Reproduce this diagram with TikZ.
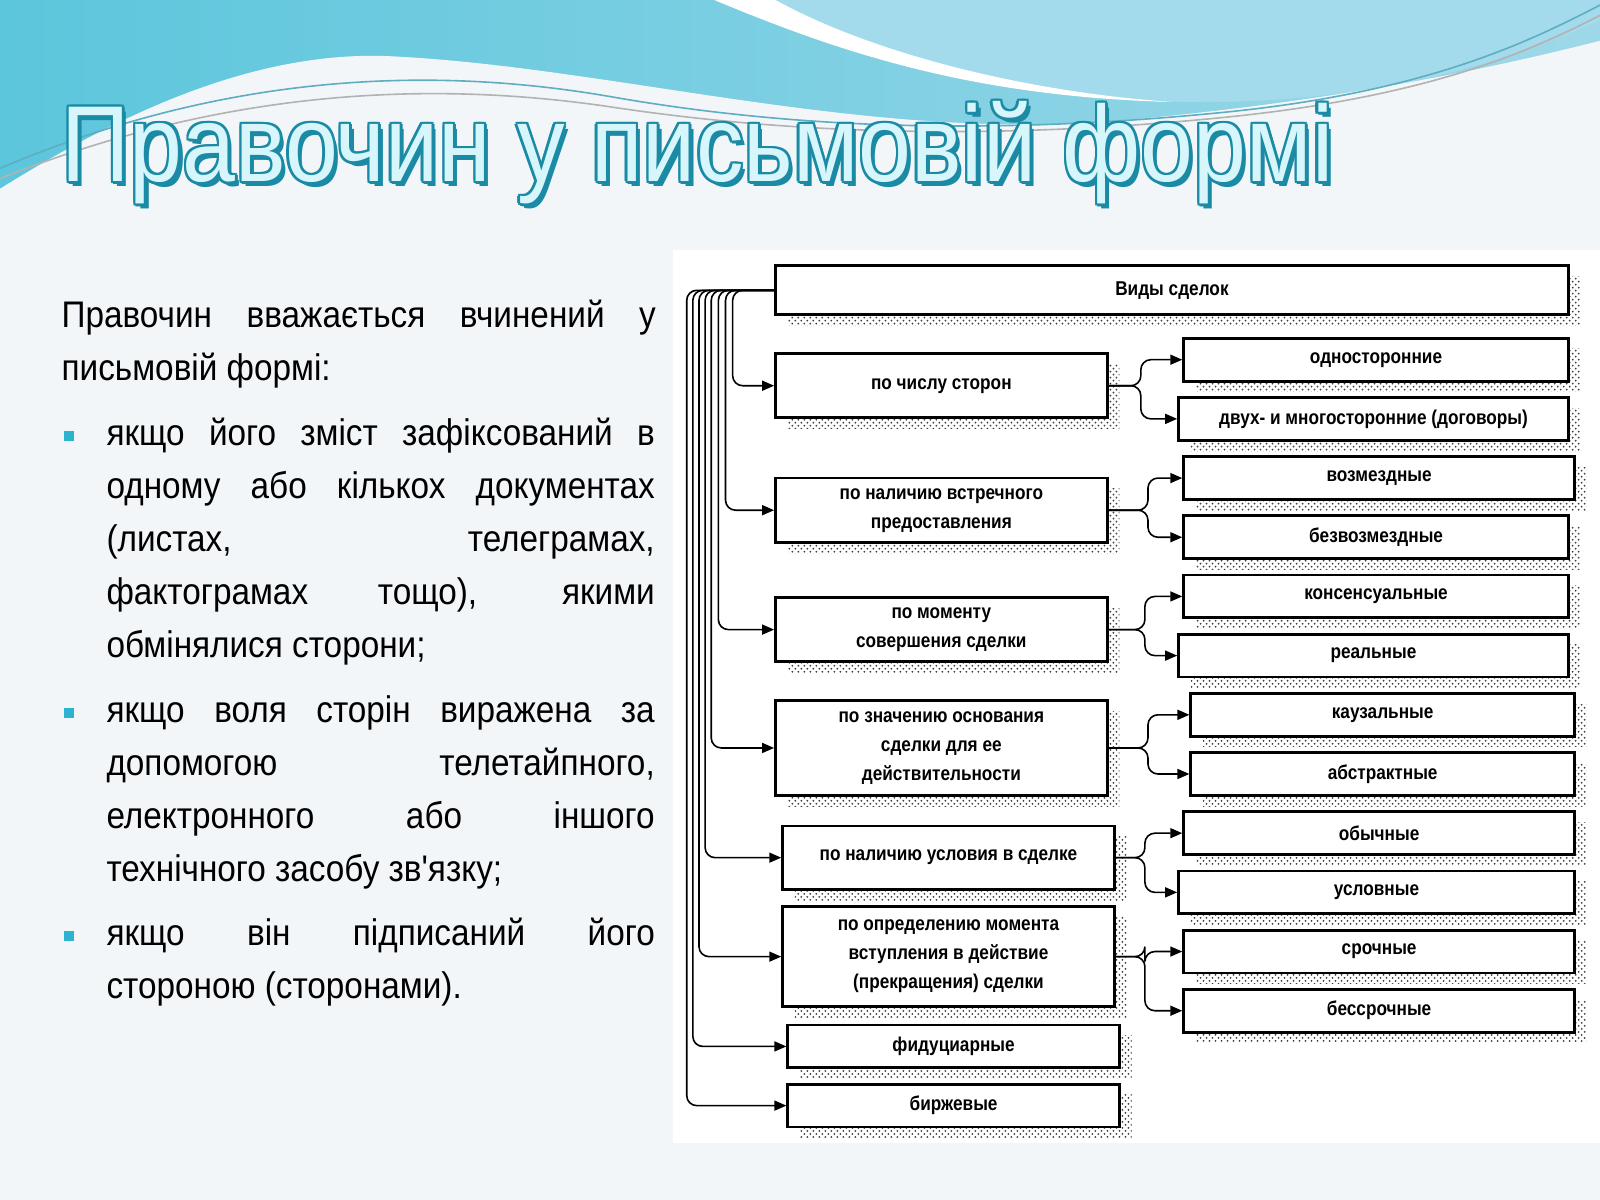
\documentclass[tikz,border=0pt]{standalone}
\usepackage{fontspec}
\setmainfont{Liberation Sans}
\newfontfamily\narrowf[FakeStretch=0.9]{Liberation Sans}
\newfontfamily\titlef[FakeStretch=0.88]{Liberation Sans}
\newfontfamily\boxf[FakeStretch=0.86]{Liberation Sans}
\usetikzlibrary{patterns,arrows.meta}
\definecolor{bgc}{HTML}{F3F6F8}
\definecolor{wavea}{HTML}{5CC6DC}
\definecolor{waveb}{HTML}{9ED8E8}
\definecolor{wavec}{HTML}{7CCBE6}
\definecolor{tfill}{HTML}{D6F6FB}
\definecolor{tline}{HTML}{1A8AA5}
\definecolor{bulc}{HTML}{2DB3CF}
\tikzset{
 box/.style={draw=black,line width=1.4pt,fill=white,inner sep=1pt,align=center,font=\boxf\bfseries\fontsize{10}{14.5}\selectfont},
 arr/.style={line width=0.8pt,rounded corners=5pt,-{Triangle[length=6pt,width=5pt]}},
 para/.style={anchor=north west,inner sep=0pt,align=justify,font=\narrowf\fontsize{18.5}{26.5}\selectfont},
 bul/.style={fill=bulc,minimum size=5pt,inner sep=0pt},
}
\newcommand\bx[6]{%
 \fill[pattern=crosshatch dots,pattern color=black!75] (#2+12,#3+12) rectangle (#4+12,#5+12);
 \node[box,minimum width={(#4-#2)*0.51pt},minimum height={(#5-#3)*0.51pt}] (#1) at ({(#2+#4)/2},{(#3+#5)/2+1.5}) {#6};}
\begin{document}
\begin{tikzpicture}[x=0.51pt,y=-0.51pt]
\useasboundingbox (0,0) rectangle (1568,1176);
\fill[bgc] (0,0) rectangle (1568,1176);
% waves
\shade[left color=wavea,right color=waveb] (0,0) rectangle (1568,250);
\fill[wavec!70!white] (700,0) .. controls (850,60) and (1000,100) .. (1180,100) .. controls (1350,100) and (1480,60) .. (1568,20) -- (1568,0) -- cycle;
\fill[bgc] (0,185) .. controls (120,110) and (250,50) .. (380,55) .. controls (600,65) and (850,140) .. (1100,118) .. controls (1300,100) and (1450,70) .. (1568,40) -- (1568,265) -- (0,265) -- cycle;
\fill[white] (700,0) .. controls (820,50) and (950,95) .. (1150,100) .. controls (1000,90) and (850,50) .. (760,0) -- cycle;
\draw[tline!70,line width=0.8pt] (0,165) .. controls (200,80) and (400,60) .. (600,95) .. controls (800,130) and (1000,130) .. (1200,110) .. controls (1400,90) and (1500,40) .. (1568,5);
\draw[gray!60,line width=0.8pt] (0,175) .. controls (200,95) and (400,75) .. (600,105) .. controls (800,135) and (1000,135) .. (1200,115) .. controls (1400,95) and (1500,50) .. (1568,15);
% title
\foreach \dx/\dy in {2/2,-2/2,2/-2,-2/-2,2.5/0,-2.5/0,0/2.5,0/-2.5,4/5}
  \node[anchor=base west,inner sep=0pt,text=tline,font=\titlef\fontsize{54}{60}\selectfont] at (60+\dx,178+\dy) {Правочин у письмовій формі};
\node[anchor=base west,inner sep=0pt,text=tfill,font=\titlef\fontsize{54}{60}\selectfont] (title) at (60,178) {Правочин у письмовій формі};
% left text
\node[para,text width=297pt] (p0) at (60,294) {Правочин вважається вчинений у\linebreak письмовій формі:};
\node[bul] (b1) at (68,427) {};
\node[para,text width=274pt] (t1) at (104,409) {якщо його зміст зафіксований в\linebreak одному або кількох документах\linebreak (листах, телеграмах,\linebreak фактограмах тощо), якими\linebreak обмінялися сторони;};
\node[bul] (b2) at (68,699) {};
\node[para,text width=274pt] (t2) at (104,681) {якщо воля сторін виражена за\linebreak допомогою телетайпного,\linebreak електронного або іншого\linebreak технічного засобу зв'язку;};
\node[bul] (b3) at (68,917) {};
\node[para,text width=274pt] (t3) at (104,899) {якщо він підписаний його\linebreak стороною (сторонами).};
% diagram panel
\fill[white] (660,245) rectangle (1568,1120);
\bx{top}{760}{259}{1537}{307}{Виды сделок}
\bx{l1}{760}{345}{1085}{408}{по числу сторон}
\bx{l2}{760}{467}{1085}{530}{по наличию встречного\\предоставления}
\bx{l3}{760}{584}{1085}{647}{по моменту\\совершения сделки}
\bx{l4}{760}{685}{1085}{778}{по значению основания\\сделки для ее\\действительности}
\bx{l5}{767}{808}{1092}{870}{по наличию условия в сделке}
\bx{l6}{767}{887}{1092}{985}{по определению момента\\вступления в действие\\(прекращения) сделки}
\bx{l7}{772}{1003}{1097}{1045}{фидуциарные}
\bx{l8}{772}{1061}{1097}{1103}{биржевые}
\bx{r1}{1160}{330}{1537}{372}{односторонние}
\bx{r2}{1155}{388}{1537}{430}{двух- и многосторонние (договоры)}
\bx{r3}{1160}{446}{1543}{488}{возмездные}
\bx{r4}{1160}{504}{1537}{546}{безвозмездные}
\bx{r5}{1160}{562}{1537}{604}{консенсуальные}
\bx{r6}{1155}{620}{1537}{662}{реальные}
\bx{r7}{1167}{678}{1543}{720}{каузальные}
\bx{r8}{1167}{736}{1543}{778}{абстрактные}
\bx{r9}{1160}{794}{1543}{836}{обычные}
\bx{r10}{1155}{852}{1543}{894}{условные}
\bx{r11}{1160}{910}{1543}{952}{срочные}
\bx{r12}{1160}{968}{1543}{1010}{бессрочные}
% left connectors
\draw[arr] (top.west) -| (718,378) -- (l1.west);
\draw[arr] (top.west) -| (711,500) -- (l2.west);
\draw[arr] (top.west) -| (704,617) -- (l3.west);
\draw[arr] (top.west) -| (697,733) -- (l4.west);
\draw[arr] (top.west) -| (691,840.5) -- (l5.west);
\draw[arr] (top.west) -| (685,937.5) -- (l6.west);
\draw[arr] (top.west) -| (679,1025.5) -- (l7.west);
\draw[arr] (top.west) -| (673,1083.5) -- (l8.west);
% right connectors
\draw[arr] (l1.east) -- (1118,378) |- (r1.west);
\draw[arr] (l1.east) -- (1118,378) |- (r2.west);
\draw[arr] (l2.east) -- (1125,500) |- (r3.west);
\draw[arr] (l2.east) -- (1125,500) |- (r4.west);
\draw[arr] (l3.east) -- (1122,617) |- (r5.west);
\draw[arr] (l3.east) -- (1122,617) |- (r6.west);
\draw[arr] (l4.east) -- (1125,733) |- (r7.west);
\draw[arr] (l4.east) -- (1125,733) |- (r8.west);
\draw[arr] (l5.east) -- (1122,840.5) |- (r9.west);
\draw[arr] (l5.east) -- (1122,840.5) |- (r10.west);
\draw[arr] (l6.east) -- (1122,937.5) |- (r11.west);
\draw[arr] (l6.east) -- (1122,937.5) |- (r12.west);
\end{tikzpicture}
\end{document}
